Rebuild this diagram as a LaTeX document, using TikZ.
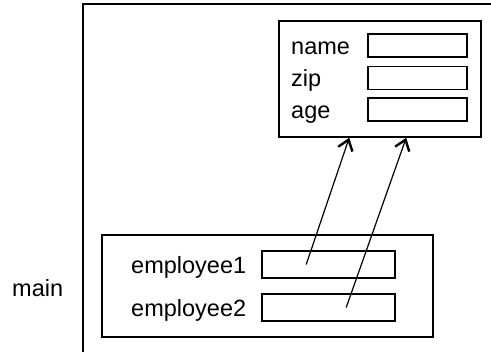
\documentclass[tikz,border=0pt]{standalone}
\usepackage{fontspec}
\setmainfont{Liberation Sans}
\usetikzlibrary{arrows.meta,positioning}

\begin{document}
\begin{tikzpicture}[x=1pt, y=-1pt,
    framebox/.style={rectangle, draw, line width=1.6pt, inner sep=0pt},
    slotbox/.style={rectangle, draw, line width=1.6pt, inner sep=0pt,
                    minimum width=99pt, minimum height=23pt},
    refslot/.style={slotbox, minimum width=133pt, minimum height=27pt},
    fieldlbl/.style={anchor=base west, inner sep=0pt,
                     font=\fontsize{23.5}{27}\selectfont},
    ptr/.style={-{Straight Barb[length=10pt,width=15pt,line width=2.4pt]},
                line width=1.2pt}
  ]
    \useasboundingbox (0,0) rectangle (491,352);

    % stack frame
    \draw[line width=1.1pt] (491,4) -- (83,4) -- (83,352);
    \node[fieldlbl] (mainlbl) at (12,297) {main};

    % object on the heap
    \node[framebox, minimum width=202pt, minimum height=116pt] (person) at (380,79) {};
    \node[slotbox] (nameslot) at (417.5,45.5)  {};
    \node[slotbox] (zipslot)  at (417.5,78)    {};
    \node[slotbox] (ageslot)  at (417.5,109.5) {};
    \node[fieldlbl] (namelbl) at (291,54.5)  {name};
    \node[fieldlbl] (ziplbl)  at (291,87)    {zip};
    \node[fieldlbl] (agelbl)  at (291,118.5) {age};

    % local variables of main
    \node[framebox, minimum width=331pt, minimum height=102pt] (mainvars) at (267.5,286) {};
    \node[refslot] (emp1slot) at (328.5,264.5) {};
    \node[refslot] (emp2slot) at (328.5,307.5) {};
    \node[fieldlbl] (emp1lbl) at (131,273.5) {employee1};
    \node[fieldlbl] (emp2lbl) at (131,316.5) {employee2};

    % references
    \coordinate (emp1ref) at ([xshift=45pt]emp1slot.west);
    \coordinate (emp2ref) at ([xshift=85pt]emp2slot.west);
    \coordinate (hit1) at ([xshift=71pt]person.south west);
    \coordinate (hit2) at ([xshift=128pt]person.south west);
    \draw[ptr] (emp1ref) -- (hit1);
    \draw[ptr] (emp2ref) -- (hit2);
\end{tikzpicture}
\end{document}
